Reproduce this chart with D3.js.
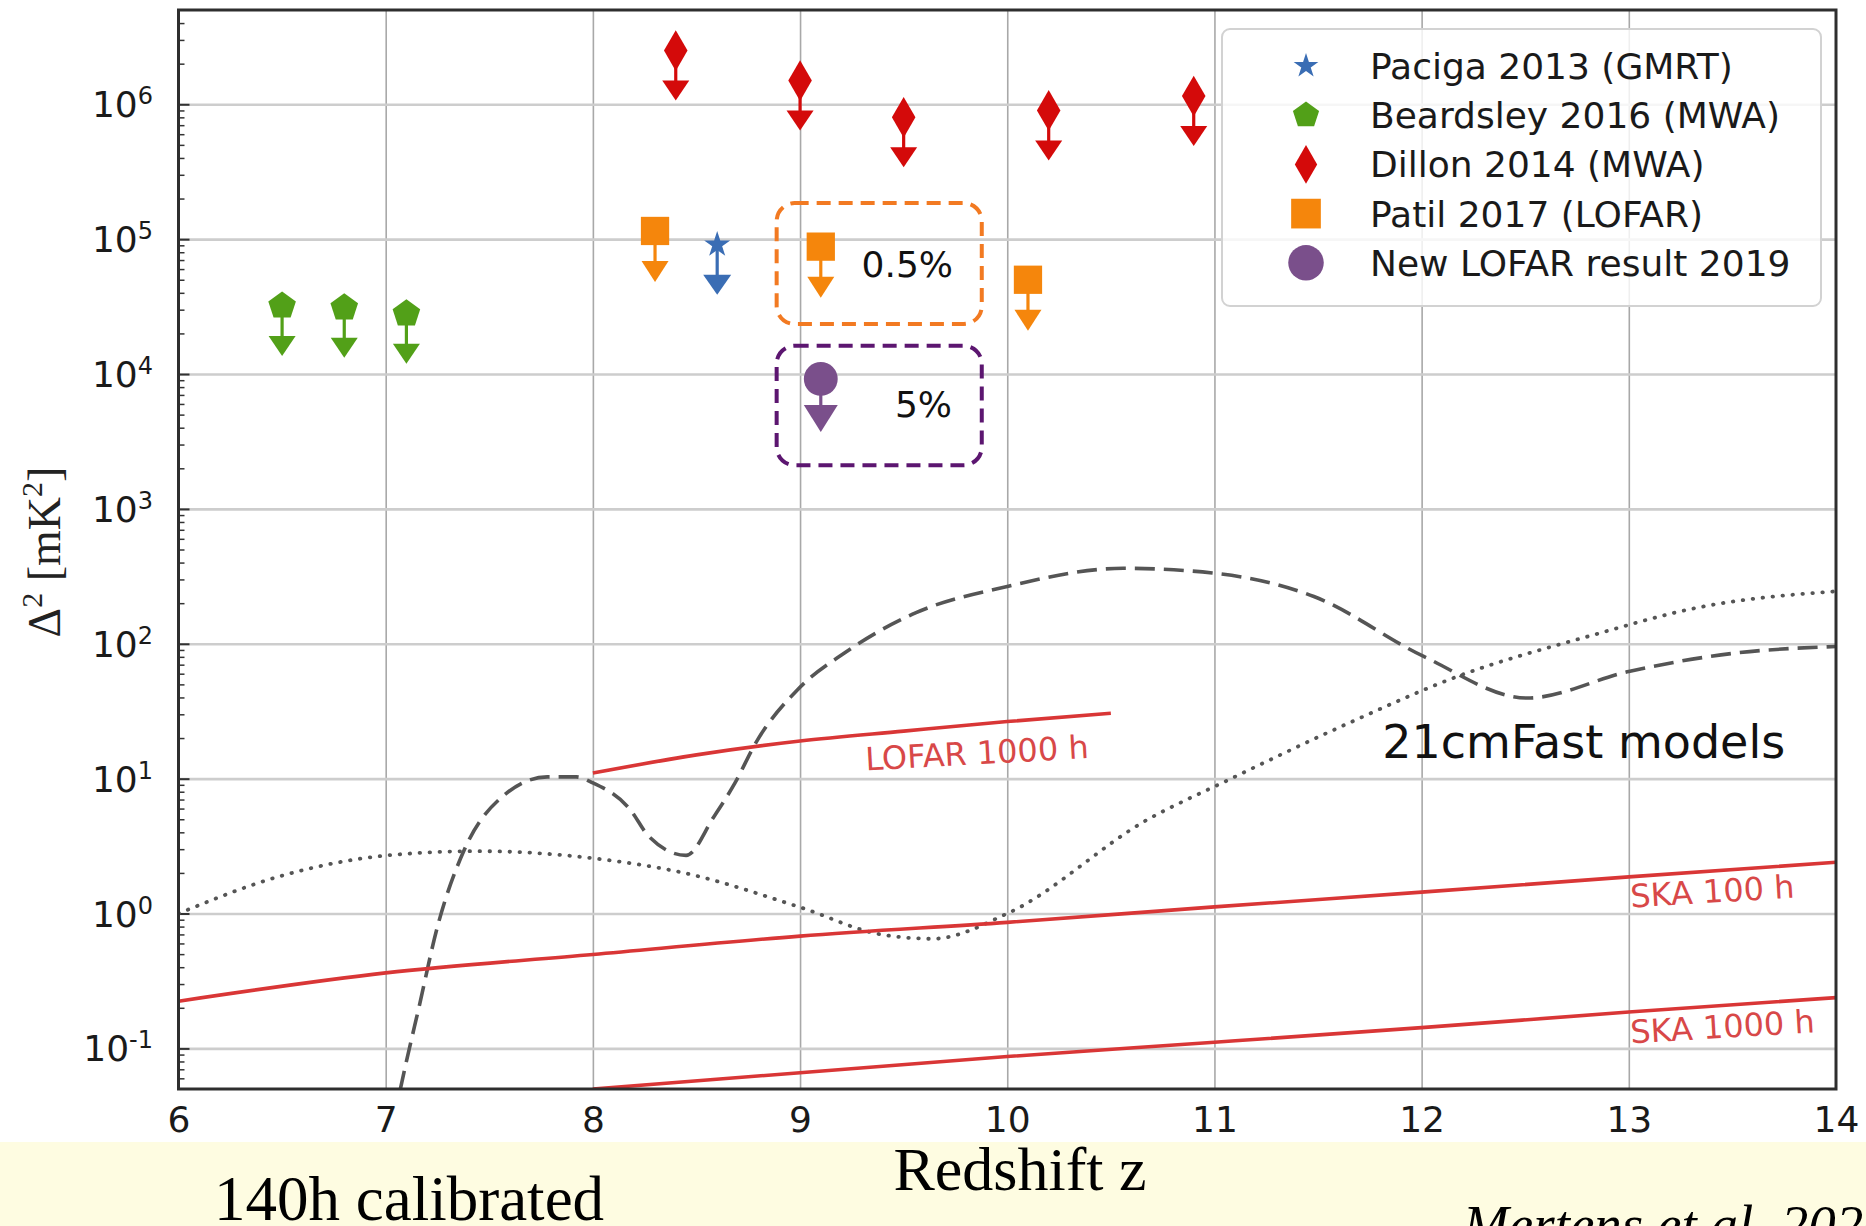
<!DOCTYPE html>
<html>
<head>
<meta charset="utf-8">
<script src="https://cdn.jsdelivr.net/npm/d3@7"></script>
<style>
  body { margin: 0; background: #fff; }
  svg text { font-family: "DejaVu Sans", sans-serif; }
</style>
</head>
<body>
<div class="chart"></div>
<script>
'use-strict';

// axis ticks
let zTicks = [6, 7, 8, 9, 10, 11, 12, 13, 14];
let decades = [-1, 0, 1, 2, 3, 4, 5, 6];

// upper limits (redshift, Delta^2 in mK^2)
let pacigaZ = [8.6];
let pacigaLim = [9.1e4];
let beardsleyZ = [6.5, 6.8, 7.1];
let beardsleyLim = [3.2e4, 3.1e4, 2.8e4];
let dillonZ = [8.4, 9.0, 9.5, 10.2, 10.9];
let dillonLim = [2.5e6, 1.5e6, 8.0e5, 9.0e5, 1.15e6];
let patilZ = [8.3, 9.1, 10.1];
let patilLim = [1.15e5, 8.8e4, 5.0e4];
let mertensZ = [9.1];
let mertensLim = [9.2e3];

// sensitivity curves
let lofarZ = [8, 8.5, 9, 9.5, 10, 10.5];
let lofarSens = [11, 15, 19, 22.5, 26.5, 30.5];
let ska100Z = [6, 7, 8, 9, 10, 11, 12, 13, 14];
let ska100Sens = [0.224, 0.363, 0.497, 0.68, 0.86, 1.12, 1.44, 1.87, 2.4];
let ska1000Z = [8, 9, 10, 11, 12, 13, 14];
let ska1000Sens = [0.05, 0.066, 0.087, 0.111, 0.1425, 0.186, 0.238];

// 21cmFast models
let dashZ = [7.04, 7.1, 7.16, 7.25, 7.38, 7.565, 7.78, 7.92, 8.0, 8.18, 8.27, 8.45, 8.585, 8.686, 8.787, 8.988, 9.216, 9.56, 10.0, 10.56, 10.99, 11.48, 12.01, 12.51, 13.0, 13.52, 14.0];
let dashVal = [0.03, 0.08, 0.2, 0.8, 2.98, 7.4, 10.3, 10.3, 9.3, 5.9, 3.73, 2.7, 5.25, 9.3, 18.5, 45.7, 85.8, 170, 266, 363, 335, 224, 80.6, 39.6, 62.4, 85.5, 95.5];
let dotZ = [6.0, 6.49, 7.0, 7.44, 8.0, 8.44, 9.01, 9.39, 9.64, 10.0, 10.68, 11.05, 11.65, 12.17, 12.8, 13.36, 14.0];
let dotVal = [1.0, 1.89, 2.69, 2.9, 2.57, 2.0, 1.1, 0.70, 0.65, 1.0, 5.0, 9.5, 25.9, 57, 113, 189, 245];

// annotation boxes [z0, z1, top, bottom]
let boxes = [[8.887, 9.877, 1.85e5, 2.35e4], [8.887, 9.877, 1.62e4, 2.11e3]];
let boxLabels = ["0.5%", "5%"];
let boxLabelZ = [9.297, 9.458];
let boxLabelVal = [5.28e4, 4.77e3];

let legendNames = ["Paciga 2013 (GMRT)", "Beardsley 2016 (MWA)", "Dillon 2014 (MWA)", "Patil 2017 (LOFAR)", "New LOFAR result 2019"];

(function() {

    let svg = "";
    let W = 1866, H = 1226;
    let left = 178.5, right = 1836, top = 10, bottom = 1089;

    let blue = "#3a6db4", green = "#52a018", red = "#d40a0a", orange = "#f5860c", purple = "#7a4f8b";
    let redLine = "#d93636";

    window.onload = function() {
        svg = d3.select('.chart')
                .append('svg').attr('width', W).attr('height', H);

        svg.append('rect').attr('width', W).attr('height', H).attr('fill', '#fff');
        svg.append('rect').attr('x', 0).attr('y', 1142).attr('width', W).attr('height', H - 1142)
          .attr('fill', '#fefce1');

        let map = drawAxes();
        plotModels(map);
        plotLimits(map);
        makeLegend();
        makeLabels(map);
    }

    function drawAxes() {
        let xScale = d3.scaleLinear().domain([6, 14]).range([left, right]);
        let yScale = d3.scaleLog().domain([0.05, 5e6]).range([bottom, top]);
        let majors = decades.map((d) => Math.pow(10, d));
        let minors = [];
        d3.range(-2, 7).forEach((d) => {
            d3.range(2, 10).forEach((m) => {
                let v = m * Math.pow(10, d);
                if (v > 0.05 && v < 5e6) minors.push(v);
            });
        });

        // grid
        svg.append('g')
          .attr('transform', 'translate(0,' + bottom + ')')
          .call(d3.axisBottom(xScale).tickValues(zTicks.slice(1, -1)).tickSize(-(bottom - top)).tickFormat(''))
          .call((g) => g.select('.domain').remove())
          .selectAll('line').attr('stroke', '#a8a8a8').attr('stroke-width', 1.6);

        svg.append('g')
          .attr('transform', 'translate(' + left + ',0)')
          .call(d3.axisLeft(yScale).tickValues(majors).tickSize(-(right - left)).tickFormat(''))
          .call((g) => g.select('.domain').remove())
          .selectAll('line').attr('stroke', '#cdcdcd').attr('stroke-width', 2.6);

        // minor ticks inside left spine
        svg.append('g')
          .attr('transform', 'translate(' + left + ',0)')
          .call(d3.axisLeft(yScale).tickValues(minors).tickSize(-6).tickFormat(''))
          .call((g) => g.select('.domain').remove())
          .selectAll('line').attr('stroke', '#333').attr('stroke-width', 1.5);
        svg.append('g')
          .attr('transform', 'translate(' + left + ',0)')
          .call(d3.axisLeft(yScale).tickValues(majors).tickSize(-11).tickFormat(''))
          .call((g) => g.select('.domain').remove())
          .selectAll('line').attr('stroke', '#333').attr('stroke-width', 2);

        // x tick labels
        let xAxis = svg.append('g')
          .attr('transform', 'translate(0,' + bottom + ')')
          .call(d3.axisBottom(xScale).tickValues(zTicks).tickSize(0).tickPadding(17).tickFormat(d3.format('d')));
        xAxis.select('.domain').remove();
        xAxis.selectAll('text')
          .attr('fill', '#1a1a1a')
          .style('font-size', '36px')
          .style('font-family', '"DejaVu Sans", sans-serif');

        // y tick labels 10^n
        let yLab = svg.append('g');
        decades.forEach((d) => {
            let t = yLab.append('text')
              .attr('x', 153)
              .attr('y', yScale(Math.pow(10, d)) + 13)
              .attr('text-anchor', 'end')
              .attr('fill', '#1a1a1a')
              .style('font-size', '36px');
            t.append('tspan').text('10');
            t.append('tspan').attr('dy', -13).style('font-size', '24px').text(d < 0 ? '-' + (-d) : d);
        });

        svg.append('defs').append('clipPath').attr('id', 'plotClip')
          .append('rect').attr('x', left).attr('y', top)
          .attr('width', right - left).attr('height', bottom - top);

        return { x: xScale, y: yScale };
    }

    function plotModels(map) {
        let g = svg.append('g').attr('clip-path', 'url(#plotClip)');
        let line = d3.line()
            .x((d) => map.x(d[0]))
            .y((d) => map.y(d[1]))
            .curve(d3.curveMonotoneX);

        g.append('path')
          .attr('d', line(d3.zip(dotZ, dotVal)))
          .attr('fill', 'none').attr('stroke', '#555')
          .attr('stroke-width', 3.8).attr('stroke-linecap', 'round')
          .attr('stroke-dasharray', '0.5,9.5');

        g.append('path')
          .attr('d', line(d3.zip(dashZ, dashVal)))
          .attr('fill', 'none').attr('stroke', '#555')
          .attr('stroke-width', 3.6)
          .attr('stroke-dasharray', '20,9');

        [[lofarZ, lofarSens], [ska100Z, ska100Sens], [ska1000Z, ska1000Sens]].forEach((s) => {
            g.append('path')
              .attr('d', line(d3.zip(s[0], s[1])))
              .attr('fill', 'none').attr('stroke', redLine)
              .attr('stroke-width', 3.6);
        });
    }

    function pentagon(r) {
        let pts = d3.range(5).map((i) => {
            let a = -Math.PI / 2 + i * 2 * Math.PI / 5;
            return [r * Math.cos(a), r * Math.sin(a)];
        });
        return 'M' + pts.join('L') + 'Z';
    }

    function symbols() {
        return {
            star: d3.symbol().type(d3.symbolStar).size(210)(),
            pentagon: pentagon(14.5),
            diamond: d3.symbol().type(d3.symbolDiamond).size(480)(),
            square: d3.symbol().type(d3.symbolSquare).size(800)(),
            circle: d3.symbol().type(d3.symbolCircle).size(900)()
        };
    }

    function drawLimits(map, zs, vals, color, shape, arrow) {
        let g = svg.append('g');
        let pts = d3.zip(zs, vals);
        let items = g.selectAll('.lim')
          .data(pts)
          .enter()
          .append('g')
            .attr('transform', (d) => 'translate(' + map.x(d[0]) + ',' + map.y(d[1]) + ')');

        items.append('line')
          .attr('x1', 0).attr('x2', 0).attr('y1', 0).attr('y2', arrow.len - arrow.h + 1)
          .attr('stroke', color).attr('stroke-width', 3.2);
        items.append('path')
          .attr('d', 'M' + (-arrow.w / 2) + ',' + (arrow.len - arrow.h) + 'L' + (arrow.w / 2) + ',' +
                (arrow.len - arrow.h) + 'L0,' + arrow.len + 'Z')
          .attr('fill', color);
        items.append('path')
          .attr('d', shape)
          .attr('fill', color);
    }

    function plotLimits(map) {
        let s = symbols();

        // dashed boxes
        let boxColors = ['#f27a22', '#5c1670'];
        boxes.forEach((b, i) => {
            svg.append('rect')
              .attr('x', map.x(b[0])).attr('y', map.y(b[2]))
              .attr('width', map.x(b[1]) - map.x(b[0]))
              .attr('height', map.y(b[3]) - map.y(b[2]))
              .attr('rx', 18).attr('ry', 18)
              .attr('fill', 'none')
              .attr('stroke', boxColors[i]).attr('stroke-width', 4)
              .attr('stroke-dasharray', '14,8');
            svg.append('text')
              .attr('x', map.x(boxLabelZ[i])).attr('y', map.y(boxLabelVal[i]))
              .attr('fill', '#111')
              .style('font-size', '36px')
              .text(boxLabels[i]);
        });

        drawLimits(map, beardsleyZ, beardsleyLim, green, s.pentagon, { len: 50, h: 20, w: 27 });
        drawLimits(map, dillonZ, dillonLim, red, s.diamond, { len: 50, h: 20, w: 27 });
        drawLimits(map, patilZ, patilLim, orange, s.square, { len: 51, h: 21, w: 27 });
        drawLimits(map, pacigaZ, pacigaLim, blue, s.star, { len: 50, h: 20, w: 28 });
        drawLimits(map, mertensZ, mertensLim, purple, s.circle, { len: 53, h: 27, w: 34 });
    }

    function makeLegend() {
        let s = symbols();
        let shapes = [s.star, s.pentagon, s.diamond, s.square, s.circle];
        let colors = [blue, green, red, orange, purple];
        let scale = [0.95, 0.95, 0.95, 1.05, 1.05];

        let lg = svg.append('g');
        lg.append('rect')
          .attr('x', 1222).attr('y', 29).attr('width', 599).attr('height', 277)
          .attr('rx', 8).attr('ry', 8)
          .attr('fill', '#fff').attr('fill-opacity', 0.82)
          .attr('stroke', '#d2d2d2').attr('stroke-width', 2);

        let rows = lg.selectAll('.item')
          .data(legendNames)
          .enter()
          .append('g')
            .attr('transform', (d, i) => 'translate(1306,' + (66 + i * 49.2) + ')');

        rows.append('path')
          .attr('d', (d, i) => shapes[i])
          .attr('transform', (d, i) => 'scale(' + scale[i] + ')')
          .attr('fill', (d, i) => colors[i]);
        rows.append('text')
          .attr('x', 64).attr('y', 13)
          .attr('fill', '#1a1a1a')
          .style('font-size', '36px')
          .text((d) => d);
    }

    function makeLabels(map) {
        // frame
        svg.append('rect')
          .attr('x', left).attr('y', top)
          .attr('width', right - left).attr('height', bottom - top)
          .attr('fill', 'none').attr('stroke', '#2e2e2e').attr('stroke-width', 3);

        let curveLabels = [
            { text: 'LOFAR 1000 h', z: 9.318, v: 11.5, rot: -3.2 },
            { text: 'SKA 100 h', z: 13.01, v: 1.11, rot: -3.4 },
            { text: 'SKA 1000 h', z: 13.01, v: 0.109, rot: -3.4 }
        ];
        curveLabels.forEach((c) => {
            svg.append('text')
              .attr('transform', 'translate(' + map.x(c.z) + ',' + map.y(c.v) + ')rotate(' + c.rot + ')')
              .attr('fill', '#d84848')
              .style('font-size', '32px')
              .text(c.text);
        });

        svg.append('text')
          .attr('x', map.x(11.81)).attr('y', map.y(14.3))
          .attr('fill', '#111')
          .style('font-size', '46px')
          .text('21cmFast models');

        // y label
        let yl = svg.append('text')
          .attr('transform', 'translate(60, 552)rotate(-90)')
          .attr('text-anchor', 'middle')
          .attr('fill', '#222')
          .style('font-family', '"Liberation Serif", serif')
          .style('font-size', '46px');
        yl.append('tspan').text('\u0394');
        yl.append('tspan').attr('dy', -18).style('font-size', '30px').text('2');
        yl.append('tspan').attr('dy', 18).text(' [mK');
        yl.append('tspan').attr('dy', -18).style('font-size', '30px').text('2');
        yl.append('tspan').attr('dy', 18).text(']');

        svg.append('text')
          .attr('x', 1020).attr('y', 1190)
          .attr('text-anchor', 'middle')
          .style('font-family', '"Liberation Serif", serif')
          .style('font-size', '62px')
          .attr('fill', '#000')
          .text('Redshift z');

        svg.append('text')
          .attr('x', 214).attr('y', 1220)
          .style('font-family', '"Liberation Serif", serif')
          .style('font-size', '63px')
          .attr('fill', '#000')
          .text('140h calibrated');

        svg.append('text')
          .attr('x', 1463).attr('y', 1243)
          .style('font-family', '"Liberation Serif", serif')
          .style('font-style', 'italic')
          .style('font-size', '55px')
          .attr('fill', '#000')
          .text('Mertens et al. 2020');
    }

})();
</script>
</body>
</html>
